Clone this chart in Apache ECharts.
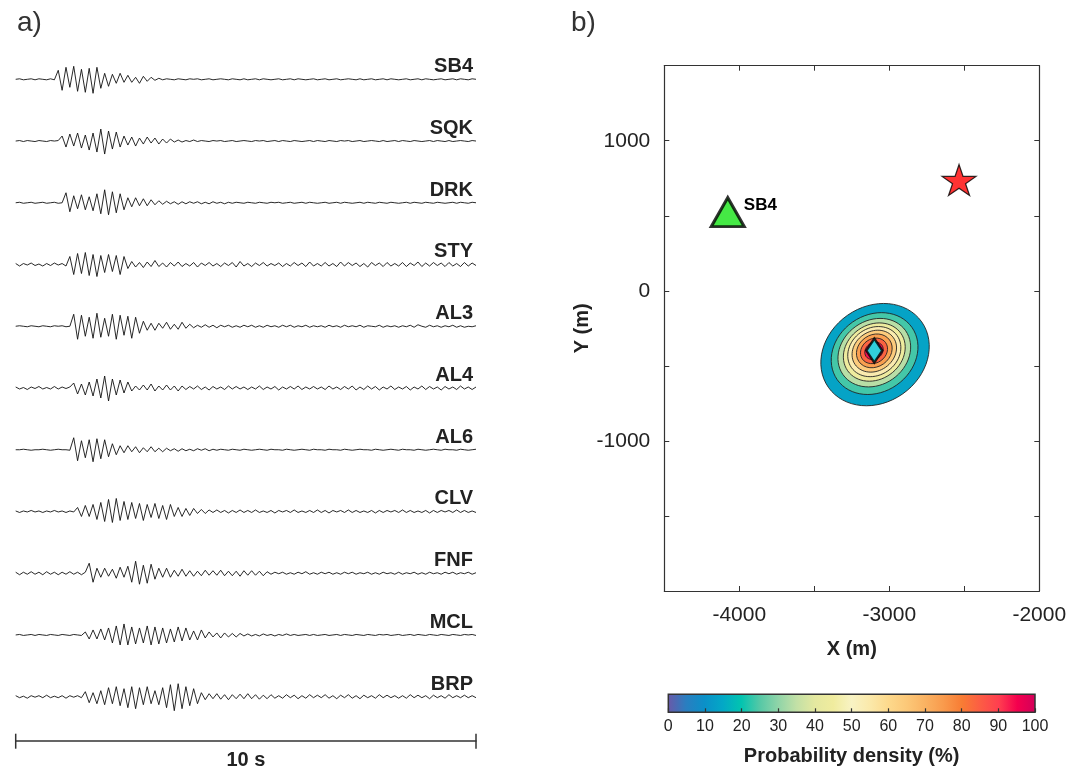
<!DOCTYPE html>
<html>
<head>
<meta charset="utf-8">
<script src="https://cdn.jsdelivr.net/npm/echarts@6/dist/echarts.min.js"></script>
<style>
  html, body { margin: 0; padding: 0; background: #fff; }
  #chart { width: 1081px; height: 771px; }
</style>
</head>
<body>
<div id="chart"></div>
<script>
// ---- panel a: seismograms (10 s, amplitudes in plot units) ----
const stations = ["SB4", "SQK", "DRK", "STY", "AL3", "AL4", "AL6", "CLV", "FNF", "MCL", "BRP"];
const duration = 10;
const scaleBarTicks = [0, 10];

const sb4 = [
  0, 0.5, -0.5, 0, 0.5, -0.5, 0.5, 0, -0.5, 0.5, -0.5, 9, -11, 12, -8, 13, -12, 10, -13, 11,
  -14, 12, -9, 6, -7, 5, -4, 6, -3, 4, -3, 2, -4, 3, -2, 2, -1, 1, -0.5, 0.5,
  0, -0.5, 0.5, 0, -0.5, 0.5, 0, 0.5, -0.5, 0, 0.5, -0.5, 0, 0.5, 0, -0.5, 0.5, 0, -0.5, 0.5,
  -0.5, 0, 0.5, -0.5, 0.5, 0, -0.5, 0, 0.5, -0.5, 0, 0.5, -0.5, 0.5, 0, -0.5, 0, 0.5, -0.5, 0,
  0.5, -0.5, 0, 0.5, -0.5, 0, 0.5, 0, -0.5, 0.5, -0.5, 0, 0.5, -0.5, 0, 0.5, -0.5, 0.5, 0, -0.5,
  0, 0.5, -0.5, 0, 0.5, -0.5, 0.5, 0, -0.5, 0, 0.5, -0.5, 0, 0.5, -0.5, 0.5, 0, -0.5, 0.5, 0
];
const sqk = [
  0, 0.5, -0.5, 0.5, 0, -0.5, 0.5, 0, -0.5, 0.5, 0, 0.5, 5, -6, 7, -5, 8, -7, 6, -9,
  8, -11, 12, -13, 10, -8, 9, -6, 5, -4, 4, -5, 3, -3, 4, -2, 3, -3, 2, -2,
  2, -1, 1, -1, 0.5, -0.5, 1, -0.5, 0.5, 0, -0.5, 0.5, 0, 0.5, -0.5, 0, 0.5, -0.5, 0, 0.5,
  0, -0.5, 0.5, 0, 0.5, -0.5, 0, 0.5, -0.5, 0.5, 0, -0.5, 0.5, 0, -0.5, 0, 0.5, -0.5, 0.5, 0,
  -0.5, 0.5, 0, -0.5, 0.5, 0, 0.5, -0.5, 0, 0.5, -0.5, 0, 0.5, 0, -0.5, 0.5, -0.5, 0, 0.5, -0.5,
  0.5, 0, -0.5, 0.5, 0, -0.5, 0, 0.5, -0.5, 0.5, 0, -0.5, 0.5, -0.5, 0, 0.5, 0, -0.5, 0.5, 0
];
const drk = [
  0, 0.5, -0.5, 0, 0.5, -0.5, 0, 0.5, -0.5, 0, 0.5, -0.5, 0, 10, -9, 7, -6, 8, -7, 6,
  -8, 9, -11, 13, -12, 11, -10, 9, -7, 5, -4, 5, -3, 4, -3, 3, -2, 2, -1.5, 1.5,
  -1, 1, -1.5, 1, -1, 1, -0.5, 1, -1, 0.5, -1, 1, -0.5, 0.5, -1, 0.5, -0.5, 0.5, 0, -0.5,
  0.5, 0, -0.5, 0.5, 0, -0.5, 0.5, 0, 0.5, -0.5, 0, 0.5, -0.5, 0, 0.5, -0.5, 0.5, 0, -0.5, 0,
  0.5, -0.5, 0, 0.5, -0.5, 0.5, 0, -0.5, 0, 0.5, -0.5, 0.5, 0, -0.5, 0.5, 0, -0.5, 0.5, 0, -0.5,
  0, 0.5, -0.5, 0.5, 0, -0.5, 0.5, 0, -0.5, 0.5, 0, -0.5, 0, 0.5, -0.5, 0.5, 0, -0.5, 0.5, 0
];
const sty = [
  1, -1.5, 1, -0.5, 1.5, -1, 0.5, -1.5, 1, -1, 1.5, -0.5, 1, -1.5, 8, -10, 11, -9, 12, -11,
  10, -12, 9, -8, 10, -7, 9, -10, 8, -4, 3, -2.5, 2, -3, 2.5, -2, 4, -2, 1.5, -2.5,
  2, -1.5, 2.5, -2, 1, -1.5, 2, -2.5, 1.5, -1, 2, -1.5, 1, -2, 1.5, -1, 2, -2.5, 3, -1.5,
  1, -2, 1.5, -1, 2, -1.5, 1, -1, 1.5, -2, 1, -1.5, 2, -1, 1.5, -2, 2.5, -1.5, 1, -1.5,
  2, -1.5, 1, -2, 2.5, -1.5, 2, -1, 1.5, -2, 1, -2.5, 2, -1, 1.5, -2, 2, -1.5, 1, -1.5,
  2, -2, 1.5, -1, 2.5, -2, 1.5, -1.5, 2, -1, 1.5, -2, 2, -1.5, 1, -2, 2, -1.5, 1.5, -1
];
const al3 = [
  0, 0.5, 0, -0.5, 0.5, 0, -0.5, 0.5, 0, -0.5, 0.5, 0, 0.5, -0.5, 0, 12, -13, 11, -10, 9,
  -12, 13, -11, 8, -10, 12, -13, 11, -9, 10, -12, 9, -7, 5, -4, 3, -4, 3, -2, 4,
  -3, 2, -3, 4, -2, 2, -1.5, 1, -1, 1.5, -1, 1, -1.5, 1, -0.5, 1, -1, 0.5, -1, 1,
  -0.5, 1, -1, 0.5, -1, 1, -0.5, 0.5, -1, 1, -0.5, 1, -1, 0.5, -0.5, 1, -1, 0.5, -0.5, 0.5,
  -1, 1, -0.5, 0.5, -1, 1, -0.5, 0.5, -0.5, 1, -1, 0.5, 0, -0.5, 1, -1, 0.5, -0.5, 0.5, -1,
  0.5, -0.5, 1, -1, 1.5, 0, -1, 1, -0.5, 0.5, -1, 0.5, -0.5, 1, -1, 0.5, -1, 0, -0.5, 0.5
];
const al4 = [
  1, -1, 0.5, -1.5, 1, -0.5, 1.5, -1, 0.5, -1, 1.5, -1, 1, -0.5, 1, 5, -6, 4, -7, 6,
  -8, 9, -10, 12, -13, 9, -7, 8, -5, 6, -3, 2, -2, 3, -2, 4, -3, 2, -2, 3,
  -2, 2, -3, 2, -1.5, 1.5, -1, 2, -1.5, 1, -2, 1.5, -1, 1, -1.5, 2, -1, 1.5, -1, 1,
  -1.5, 1, -1, 2, -1.5, 1, -1, 1.5, -2, 1, -1, 1.5, -1, 2, -1.5, 1, -1, 1.5, -1, 1,
  -1.5, 2, -1, 1, -1.5, 1.5, -1, 2, -2, 1, -1.5, 2, -1, 1.5, -2, 1, -1, 2, -1.5, 1,
  -1, 1.5, -2, 1, -1, 2, -1.5, 1.5, -1, 1, -2, 1.5, -1, 1, -1.5, 2, -1, 1, -1.5, 1
];
const al6 = [
  0, 0, 0.5, 0, -0.5, 0, 0, 0.5, 0, -0.5, 0, 0.5, 0, 0, -0.5, 12, -11, 9, -8, 10,
  -12, 11, -9, 10, -7, 6, -5, 4, -3, 4, -2, 3, -3, 2, -2, 3, -2, 1.5, -2, 1.5,
  -1, 1, -1.5, 1, -1, 0.5, -1, 1, -0.5, 1, -1, 0.5, -0.5, 0.5, 0, -0.5, 0.5, 0, -0.5, 0.5,
  0, -0.5, 0, 0.5, 0, -0.5, 0.5, 0, 0, -0.5, 0.5, 0, -0.5, 0, 0.5, 0, -0.5, 0.5, 0, 0,
  -0.5, 0.5, 0, 0, -0.5, 0.5, 0, -0.5, 0, 0.5, 0, 0, -0.5, 0.5, 0, -0.5, 0, 0.5, 0, -0.5,
  0.5, 0, 0, -0.5, 0.5, 0, -0.5, 0, 0.5, 0, -0.5, 0.5, 0, 0, -0.5, 0.5, 0, -0.5, 0, 0.5
];
const clv = [
  0.5, -1, 0.5, -0.5, 1, -0.5, 0.5, -1, 0.5, -0.5, 1, -0.5, 0.5, -1, 0.5, -0.5, 4, -5, 6, -5,
  7, -8, 9, -10, 12, -11, 13, -9, 10, -8, 9, -7, 8, -9, 7, -6, 8, -7, 6, -8,
  7, -5, 4, -5, 3, -4, 3, -2, 2, -2, 1.5, -1, 1.5, -1, 1, -1.5, 1, -1, 1.5, -1,
  1, -1, 1.5, -1, 0.5, -1, 1, -1.5, 1, -0.5, 1, -1, 1.5, -1, 0.5, -1, 1, -1, 1.5, -1,
  1, -1.5, 1, -0.5, 1, -1, 1.5, -1, 1, -1, 0.5, -1, 1, -1.5, 1, -1, 1, -0.5, 1, -1,
  1.5, -1, 1, -1, 0.5, -1, 1, -1.5, 1, -1, 1, -0.5, 1, -1, 1.5, -1, 1, -1, 0.5, -1
];
const fnf = [
  1, -1.5, 1, -1, 1.5, -1, 1, -1.5, 1.5, -1, 1, -1.5, 1, -1, 1.5, -1, 1, -1.5, 1, 10,
  -9, 5, -4, 5, -3, 4, -5, 6, -4, 7, -9, 12, -11, 8, -10, 9, -6, 5, -4, 5,
  -4, 3, -3, 4, -3, 2.5, -3, 2, -2.5, 3, -2, 2.5, -2, 3, -2.5, 2, -2.5, 2, -3, 2.5,
  -2, 2.5, -2, 2, -2.5, 1.5, -1, 1, -0.5, 1, -1, 0.5, -1, 1, -0.5, 1.5, -1, 0.5, -1, 1,
  -0.5, 1, -1, 0.5, -1, 1, -0.5, 1, -1, 0.5, -0.5, 1, -1, 0.5, -1, 1, -0.5, 0.5, -1, 1,
  -1, 0.5, -0.5, 1, -1, 0.5, -1, 1, -0.5, 0.5, -1, 1, -0.5, 1, -1, 0.5, -0.5, 1, -1, 0.5
];
const mcl = [
  0, 0.5, -0.5, 0, 0.5, -0.5, 0.5, 0, -0.5, 0.5, 0, -0.5, 0.5, 0, -0.5, 0.5, 0, -0.5, 3, -4,
  5, -4, 6, -5, 7, -8, 9, -10, 11, -10, 8, -9, 7, -8, 9, -10, 8, -9, 7, -8,
  6, -7, 8, -6, 7, -5, 4, -5, 5, -3, 3, -2, 2, -3, 2, -2, 1.5, -2, 1.5, -1,
  1, -1, 0.5, -1, 1, -0.5, 0.5, -1, 0.5, -0.5, 1, -0.5, 0.5, -0.5, 0, 0.5, -0.5, 0.5, -0.5, 0,
  0.5, -0.5, 0, 0.5, -0.5, 0.5, 0, -0.5, 0.5, 0, -0.5, 0.5, 0, -0.5, 0.5, 0, 0.5, -0.5, 0, 0.5,
  -0.5, 0, 0.5, -0.5, 0.5, 0, -0.5, 0.5, 0, -0.5, 0.5, 0, -0.5, 0.5, 0, -0.5, 0.5, 0, 0.5, -0.5
];
const brp = [
  1, -1, 0.5, -1.5, 1, -0.5, 1, -1, 1.5, -1, 0.5, -1, 1, -1.5, 1, -0.5, 1, -1, 5, -6,
  4, -7, 6, -8, 9, -7, 10, -9, 8, -11, 10, -12, 9, -8, 10, -7, 6, -8, 9, -11,
  12, -14, 13, -12, 10, -9, 8, -7, 4, -3, 3, -2, 3, -2.5, 2, -3, 2, -2, 2.5, -2,
  3, -2, 2, -2.5, 1.5, -2, 2, -1.5, 1, -1.5, 2, -1, 1.5, -2, 1, -1.5, 2, -1, 1.5, -1,
  2, -1.5, 1, -2, 1.5, -1, 2, -1.5, 1, -2, 1.5, -1, 1, -1.5, 2, -1, 1.5, -1, 1, -1.5,
  1, -1.5, 2, -1, 1.5, -1, 1, -2, 1.5, -1, 1, -1.5, 2, -1, 1, -1, 1.5, -1, 1, -1
];
const traces = [sb4, sqk, drk, sty, al3, al4, al6, clv, fnf, mcl, brp];

// ---- panel b: location (m) ----
const stationName = "SB4";
const stationXY = [-4077, 525];
const sourceXY = [-2535, 738];
const bestXY = [-3100, -398];
const contourLevels = [10, 20, 30, 40, 50, 60, 70, 80, 90];
const contourCx = [-3095, -3098, -3100, -3100, -3100, -3100, -3100, -3102, -3102];
const contourCy = [-425, -418, -412, -408, -405, -402, -400, -400, -400];
const contourA = [380, 304, 255, 217, 186, 156, 125, 95, 65];
const contourB = [320, 256, 214, 182, 157, 131, 106, 80, 54];
const contourTilt = 35;

// colour scale 0..100 %
const colormap = [
  "#6b58a8", "#2a7ec0", "#0b90c8", "#03a8c6", "#02c4b0", "#55c8a6", "#8fd4a8",
  "#c2e0a6", "#e4e8a0", "#f0ec9e", "#f8f3c4", "#fbe9aa", "#fdd98c", "#fcc878",
  "#fab262", "#f99a4c", "#f87c34", "#fc5c44", "#ff3e50", "#f4004e", "#d2005a"
];

const FONT = "'Liberation Sans', Arial, Helvetica, sans-serif";
const traceGap = 61.74;
const traceYMin = -661.4;
const starPath = "path://M100,0 L122.45,69.1 L195.1,69.1 L136.3,111.8 L158.8,180.9 L100,138.2 L41.2,180.9 L63.7,111.8 L4.9,69.1 L77.55,69.1 Z";

const chart = echarts.init(document.getElementById("chart"), null, { renderer: "canvas" });

const series = [];
traces.forEach((tr, i) => {
  const base = -i * traceGap;
  series.push({
    type: "line",
    xAxisIndex: 0,
    yAxisIndex: 0,
    data: tr.map((v, k) => [k * duration / (tr.length - 1), base + v]),
    symbol: "none",
    lineStyle: { color: "#111", width: 0.9 },
    silent: true,
  });
});

series.push({
  type: "scatter",
  xAxisIndex: 0,
  yAxisIndex: 0,
  symbolSize: 0,
  itemStyle: { color: "#fff" },
  data: stations.map((s, i) => ({ name: s, value: [duration, -i * traceGap] })),
  label: {
    show: true,
    position: "left",
    distance: 3,
    offset: [0, -12.6],
    formatter: "{b}",
    fontFamily: FONT,
    fontSize: 20,
    fontWeight: "bold",
    color: "#222",
    textBorderWidth: 0,
    opacity: 1,
  },
  silent: true,
});

// contour (series index 12)
series.push({
  type: "custom",
  xAxisIndex: 2,
  yAxisIndex: 1,
  data: contourLevels.map((lv, i) => [lv, contourCx[i], contourCy[i], contourA[i], contourB[i]]),
  encode: { x: 1, y: 2 },
  renderItem: (params, api) => {
    const c = api.coord([api.value(1), api.value(2)]);
    const s = api.size([api.value(3), api.value(4)]);
    return {
      type: "ellipse",
      x: c[0],
      y: c[1],
      rotation: (contourTilt * Math.PI) / 180,
      shape: { cx: 0, cy: 0, rx: s[0], ry: s[1] },
      style: { fill: api.visual("color"), stroke: "#222", lineWidth: 0.8 },
    };
  },
  silent: true,
});

series.push({
  type: "scatter",
  xAxisIndex: 2,
  yAxisIndex: 1,
  symbol: "triangle",
  symbolSize: [33, 29],
  itemStyle: { color: "#16e316", borderColor: "#000", borderWidth: 3 },
  data: [{ name: stationName, value: stationXY }],
  label: {
    show: true,
    position: "right",
    distance: 0,
    offset: [-2, -7],
    formatter: "{b}",
    fontFamily: FONT,
    fontSize: 17,
    fontWeight: "bold",
    color: "#000",
    textBorderWidth: 0,
    opacity: 1,
  },
  silent: true,
});

series.push({
  type: "scatter",
  xAxisIndex: 2,
  yAxisIndex: 1,
  symbol: starPath,
  symbolSize: [34, 31],
  itemStyle: { color: "#ff0000", borderColor: "#000", borderWidth: 1.2 },
  data: [sourceXY],
  silent: true,
});

series.push({
  type: "scatter",
  xAxisIndex: 2,
  yAxisIndex: 1,
  symbol: "diamond",
  symbolSize: [16, 24],
  itemStyle: { color: "#00ffff", borderColor: "#000", borderWidth: 2.5 },
  data: [bestXY],
  silent: true,
});

// colour bar
series.push({
  type: "custom",
  xAxisIndex: 4,
  yAxisIndex: 3,
  data: [[0, 100]],
  renderItem: (params, api) => {
    const p0 = api.coord([api.value(0), 0]);
    const p1 = api.coord([api.value(1), 1]);
    return {
      type: "rect",
      shape: { x: p0[0], y: p1[1], width: p1[0] - p0[0], height: p0[1] - p1[1] },
      style: {
        fill: new echarts.graphic.LinearGradient(0, 0, 1, 0,
          colormap.map((c, i) => ({ offset: i / (colormap.length - 1), color: c }))),
        stroke: "#333",
        lineWidth: 1.5,
      },
    };
  },
  silent: true,
});

// end ticks of the 10 s scale bar
series.push({
  type: "custom",
  xAxisIndex: 0,
  yAxisIndex: 0,
  data: scaleBarTicks.map((t) => [t, traceYMin]),
  renderItem: (params, api) => {
    const p = api.coord([api.value(0), api.value(1)]);
    return {
      type: "line",
      shape: { x1: p[0], y1: p[1] - 7, x2: p[0], y2: p[1] + 8 },
      style: { stroke: "#333", lineWidth: 1.5 },
    };
  },
  silent: true,
});

const axisColor = "#333";
const xTickLabel = (v) => (v % 1000 === 0 ? String(v) : "");
const yTickLabel = (v) => (v % 1000 === 0 && v > -2000 ? String(v) : "");

const option = {
  animation: false,
  backgroundColor: "#fff",
  textStyle: { fontFamily: FONT },
  title: [
    { text: "a)", left: 12, top: 4, textStyle: { fontFamily: FONT, fontSize: 28, fontWeight: "normal", color: "#333" } },
    { text: "b)", left: 566, top: 4, textStyle: { fontFamily: FONT, fontSize: 28, fontWeight: "normal", color: "#333" } },
  ],
  grid: [
    { left: 15.7, top: 49.3, width: 460.3, height: 691.4, outerBoundsMode: "none" },
    { left: 664.3, top: 65.7, width: 375, height: 525.3, outerBoundsMode: "none" },
    { left: 668.3, top: 694.3, width: 366.7, height: 18, outerBoundsMode: "none" },
  ],
  xAxis: [
    {
      gridIndex: 0, type: "value", min: 0, max: duration, interval: duration,
      axisLine: { show: true, onZero: false, lineStyle: { color: axisColor, width: 1.5 } },
      axisTick: { show: false },
      axisLabel: { show: false },
      splitLine: { show: false },
      name: "10 s", nameLocation: "middle", nameGap: 10,
      nameTextStyle: { fontFamily: FONT, fontSize: 20, fontWeight: "bold", color: "#222" },
    },
    { gridIndex: 0, type: "value", min: 0, max: duration, show: false },
    {
      gridIndex: 1, type: "value", min: -4500, max: -2000, interval: 500, position: "bottom",
      axisLine: { show: true, onZero: false, lineStyle: { color: axisColor, width: 1.2 } },
      axisTick: { show: true, inside: true, length: 5, lineStyle: { color: axisColor } },
      axisLabel: { formatter: xTickLabel, fontFamily: FONT, fontSize: 21, color: "#222", margin: 14 },
      splitLine: { show: false },
      name: "X (m)", nameLocation: "middle", nameGap: 48,
      nameTextStyle: { fontFamily: FONT, fontSize: 20, fontWeight: "bold", color: "#222" },
    },
    {
      gridIndex: 1, type: "value", min: -4500, max: -2000, interval: 500, position: "top",
      axisLine: { show: true, onZero: false, lineStyle: { color: axisColor, width: 1.2 } },
      axisTick: { show: true, inside: true, length: 5, lineStyle: { color: axisColor } },
      axisLabel: { show: false },
      splitLine: { show: false },
    },
    {
      gridIndex: 2, type: "value", min: 0, max: 100, interval: 10, z: 10,
      axisLine: { show: false },
      axisTick: { show: true, inside: true, length: 4, lineStyle: { color: axisColor, width: 1.2 } },
      axisLabel: { fontFamily: FONT, fontSize: 16, color: "#222", margin: 6 },
      splitLine: { show: false },
      name: "Probability density (%)", nameLocation: "middle", nameGap: 34,
      nameTextStyle: { fontFamily: FONT, fontSize: 20, fontWeight: "bold", color: "#222" },
    },
  ],
  yAxis: [
    { gridIndex: 0, type: "value", min: traceYMin, max: 30, show: false },
    {
      gridIndex: 1, type: "value", min: -2000, max: 1500, interval: 500, position: "left",
      axisLine: { show: true, onZero: false, lineStyle: { color: axisColor, width: 1.2 } },
      axisTick: { show: true, inside: true, length: 5, lineStyle: { color: axisColor } },
      axisLabel: { formatter: yTickLabel, fontFamily: FONT, fontSize: 21, color: "#222", margin: 14 },
      splitLine: { show: false },
      name: "Y (m)", nameLocation: "middle", nameGap: 72, nameRotate: 90,
      nameTextStyle: { fontFamily: FONT, fontSize: 20, fontWeight: "bold", color: "#222" },
    },
    {
      gridIndex: 1, type: "value", min: -2000, max: 1500, interval: 500, position: "right",
      axisLine: { show: true, onZero: false, lineStyle: { color: axisColor, width: 1.2 } },
      axisTick: { show: true, inside: true, length: 5, lineStyle: { color: axisColor } },
      axisLabel: { show: false },
      splitLine: { show: false },
    },
    { gridIndex: 2, type: "value", min: 0, max: 1, show: false },
  ],
  visualMap: {
    type: "continuous",
    show: false,
    min: -4,
    max: 96,
    dimension: 0,
    seriesIndex: 12,
    inRange: { color: colormap },
  },
  series: series,
};

chart.setOption(option);
</script>
</body>
</html>
